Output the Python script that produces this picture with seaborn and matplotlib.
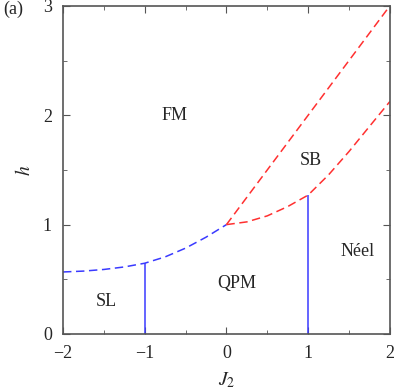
import seaborn as sns
import matplotlib.pyplot as plt
import pandas as pd
from matplotlib.ticker import MultipleLocator

# phase boundaries
sl_x = [-2.0, -1.75, -1.5, -1.25, -1.0, -0.75, -0.5, -0.25, 0.0]
sl_h = [0.567, 0.575, 0.59, 0.613, 0.647, 0.705, 0.785, 0.885, 1.0]

fm_x = [0.0, 2.0]
fm_h = [1.0, 3.0]

sb_x = [0.0, 0.25, 0.5, 0.75, 1.0, 1.25, 1.5, 1.75, 2.0]
sb_h = [1.0, 1.025, 1.08, 1.165, 1.27, 1.455, 1.668, 1.897, 2.125]

vert_x = [-1.0, 1.0]
vert_top = [0.647, 1.27]

phase_names = ['FM', 'SB', 'SL', 'QPM', 'Néel']
phase_x = [-0.64, 1.03, -1.47, 0.13, 1.6]
phase_y = [2.0, 1.59, 0.30, 0.46, 0.75]

sns.set_style("ticks")
plt.rcParams['font.family'] = ['Liberation Serif', 'DejaVu Serif']
plt.rcParams['mathtext.fontset'] = 'stix'

fig = plt.figure(figsize=(3.99, 3.92), dpi=100)
ax = fig.add_axes([0.158, 0.148, 0.819, 0.837])

dash = (5.5, 3)
sns.lineplot(x=sl_x, y=sl_h, ax=ax, color='#3a3aff', lw=1.1)
ax.lines[-1].set_dashes(dash)
sns.lineplot(x=fm_x, y=fm_h, ax=ax, color='#ff3030', lw=1.1)
ax.lines[-1].set_dashes(dash)
sns.lineplot(x=sb_x, y=sb_h, ax=ax, color='#ff3030', lw=1.1)
ax.lines[-1].set_dashes(dash)

for vx, vt in zip(vert_x, vert_top):
    ax.vlines(vx, 0, vt, color='#3a3aff', lw=1.1)

for name, px, py in zip(phase_names, phase_x, phase_y):
    ax.text(px, py, name, ha='center', va='center', fontsize=13)

ax.set_xlim(-2, 2)
ax.set_ylim(0, 3)
ax.xaxis.set_minor_locator(MultipleLocator(0.5))
ax.yaxis.set_major_locator(MultipleLocator(1))
ax.yaxis.set_minor_locator(MultipleLocator(0.5))
ax.set_xticks([-2, -1, 0, 1, 2])
ax.set_xticklabels(['\u22122', '\u22121', '0', '1', '2'])
ax.tick_params(which='both', direction='in', top=True, right=True,
               color='#555555', labelsize=13, pad=8)
ax.tick_params(which='major', length=5)
ax.tick_params(which='minor', length=3)
for sp in ax.spines.values():
    sp.set_color('#555555')
    sp.set_linewidth(1.2)

ax.set_xlabel(r'$J_2$', fontsize=14, labelpad=6)
ax.set_ylabel(r'$h$', fontsize=14, labelpad=6)
fig.text(0.008, 0.975, '(a)', fontsize=13, ha='left', va='center')

fig.savefig('out.png', dpi=100)
